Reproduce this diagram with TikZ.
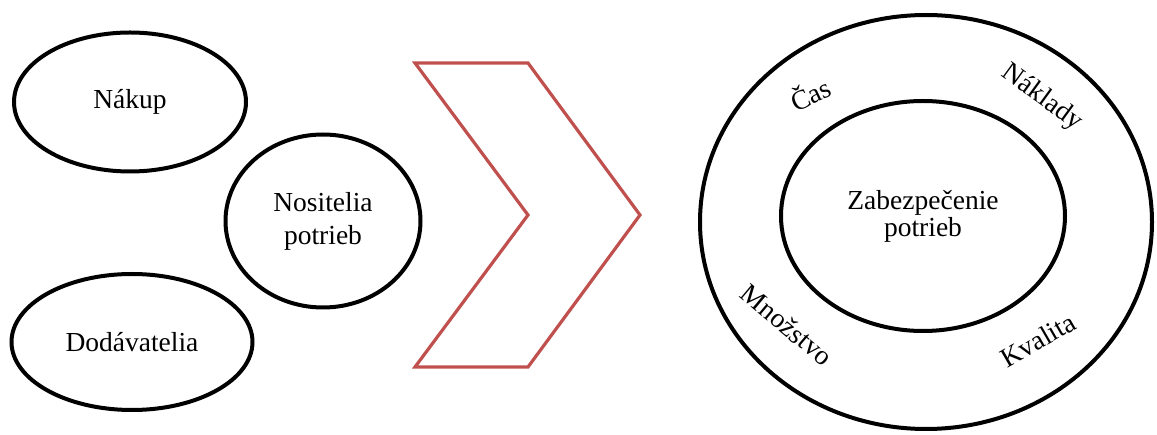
\documentclass[tikz,border=0pt]{standalone}
\usepackage{fontspec}
\setmainfont{Liberation Serif}
\usetikzlibrary{shapes.geometric}
\definecolor{chevred}{RGB}{192,80,77}

\begin{document}
\begin{tikzpicture}[x=1pt, y=-1pt,
    bubble/.style={ellipse, draw, line width=4pt, inner sep=0pt, align=center,
                   font=\fontsize{27.5}{33}\selectfont},
    ringlabel/.style={font=\fontsize{27.5}{30}\selectfont, inner sep=1pt}]
  \useasboundingbox (0,0) rectangle (1157,435);
  % Left side: three ellipses
  \node[bubble, minimum width=232pt, minimum height=139pt] (nakup) at (130,102) {Nákup};
  \node[bubble, minimum width=195pt, minimum height=173pt] (nositelia) at (323,221) {Nositelia\\potrieb};
  \node[bubble, minimum width=241pt, minimum height=136pt] (dodavatelia) at (132,342) {Dodávatelia};
  % Red chevron in the middle
  \draw[chevred, line width=3.2pt, line join=miter]
    (415,63) -- (528,63) -- (640,215) -- (528,367) -- (415,367) -- (528,215) -- cycle;
  % Right side: ring with inner ellipse
  \node[bubble, minimum width=452pt, minimum height=414pt] (ring) at (926,222) {};
  \node[bubble, minimum width=284pt, minimum height=230pt,
        font=\fontsize{27.5}{27}\selectfont] (need) at (923,216) {Zabezpečenie\\potrieb};
  % Rotated words inside the ring
  \foreach \name/\x/\y/\ang/\txt in {
      cas/810/93/25/Čas,
      naklady/1042/98/-36/Náklady,
      mnozstvo/787/325/-40/Množstvo,
      kvalita/1038/340/30/Kvalita} {
    \node[ringlabel, rotate=\ang] (\name) at (\x,\y) {\txt};
  }
\end{tikzpicture}
\end{document}
